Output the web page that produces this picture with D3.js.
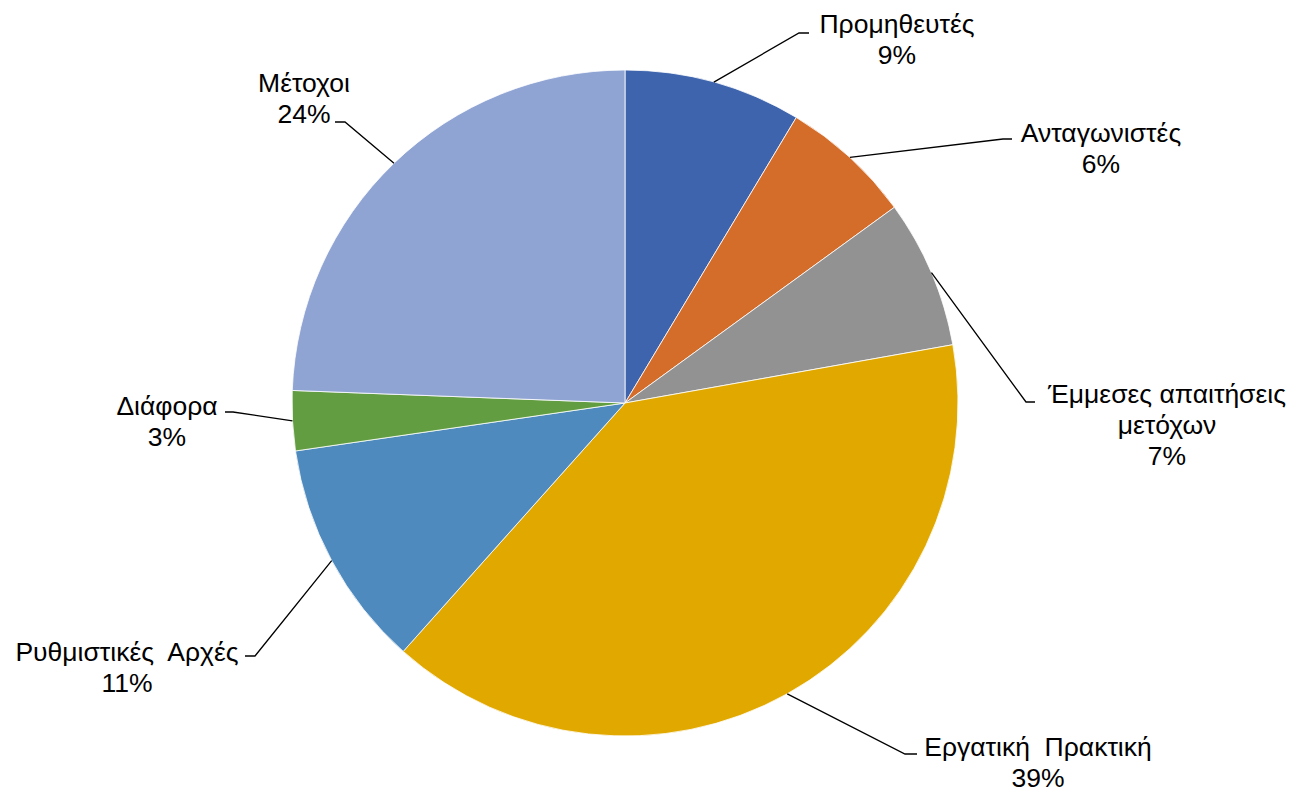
<!DOCTYPE html>
<html>
<head>
<meta charset="utf-8">
<script src="https://cdn.jsdelivr.net/npm/d3@7"></script>
<style>
  body { margin:0; background:#fff; }
  svg { display:block; }
  .lbl { font-family: "Liberation Sans", Arial, sans-serif; font-size:26.5px; fill:#000; }
</style>
</head>
<body>
<div id="chart"></div>
<script>
// data (clockwise from 12 o'clock)
var categories = ["Προμηθευτές","Ανταγωνιστές","Έμμεσες απαιτήσεις μετόχων","Εργατική Πρακτική","Ρυθμιστικές Αρχές","Διάφορα","Μέτοχοι"];
var values = [8.6, 6.4, 7.2, 39.4, 11.1, 2.9, 24.4];
var colors = ["#3d64ad","#d46c2a","#929292","#e1a900","#4f8abe","#629d41","#90a4d4"];

// label lines (text lines per label) and where each label sits
var labelLines = [["Προμηθευτές"],["Ανταγωνιστές"],["Έμμεσες απαιτήσεις","μετόχων"],["Εργατική  Πρακτική"],["Ρυθμιστικές  Αρχές"],["Διάφορα"],["Μέτοχοι"]];
// tx,ty = text centre / first baseline ; ex,ey = elbow ; hx = end of short horizontal
var labelLayout = [
  {tx:897, ty:33,  ex:799, ey:33,  hx:809},
  {tx:1101,ty:142, ex:1003,ey:139, hx:1012},
  {tx:1167,ty:403, ex:1026,ey:402, hx:1035},
  {tx:1038,ty:756, ex:905, ey:754, hx:917},
  {tx:127, ty:661, ex:255, ey:656, hx:245},
  {tx:167, ty:415, ex:233, ey:412, hx:225},
  {tx:304, ty:92,  ex:345, ey:122, hx:335}
];

var W = 1299, H = 793;
var cx = 625, cy = 403, R = 333;

var svg = d3.select("#chart").append("svg").attr("width", W).attr("height", H);
var g = svg.append("g").attr("transform", "translate(" + cx + "," + cy + ")");

var total = d3.sum(values);
var pie = d3.pie().sort(null).value(function(d){ return d; });
var arcs = pie(values);
var arc = d3.arc().innerRadius(0).outerRadius(R);

g.selectAll("path.slice").data(arcs).enter().append("path")
  .attr("class","slice")
  .attr("d", arc)
  .attr("fill", function(d,i){ return colors[i]; })
  .attr("stroke", "#ffffff")
  .attr("stroke-width", 0.8);

// leader lines
svg.selectAll("path.leader").data(arcs).enter().append("path")
  .attr("class","leader")
  .attr("fill","none")
  .attr("stroke","#000")
  .attr("stroke-width",1.3)
  .attr("d", function(d,i){
    var a = (d.startAngle + d.endAngle)/2;
    var sx = cx + Math.sin(a)*R, sy = cy - Math.cos(a)*R;
    var L = labelLayout[i];
    return "M" + sx + "," + sy + "L" + L.ex + "," + L.ey + "L" + L.hx + "," + L.ey;
  });

// labels
var lbl = svg.selectAll("text.lbl").data(arcs).enter().append("text")
  .attr("class","lbl")
  .attr("text-anchor","middle")
  .attr("x", function(d,i){ return labelLayout[i].tx; })
  .attr("y", function(d,i){ return labelLayout[i].ty; });

lbl.each(function(d,i){
  var t = d3.select(this);
  var lines = labelLines[i].concat([Math.round(d.value/total*100) + "%"]);
  lines.forEach(function(s,k){
    t.append("tspan").attr("x", labelLayout[i].tx).attr("dy", k===0 ? 0 : 31).style("white-space","pre").text(s);
  });
});
</script>
</body>
</html>
